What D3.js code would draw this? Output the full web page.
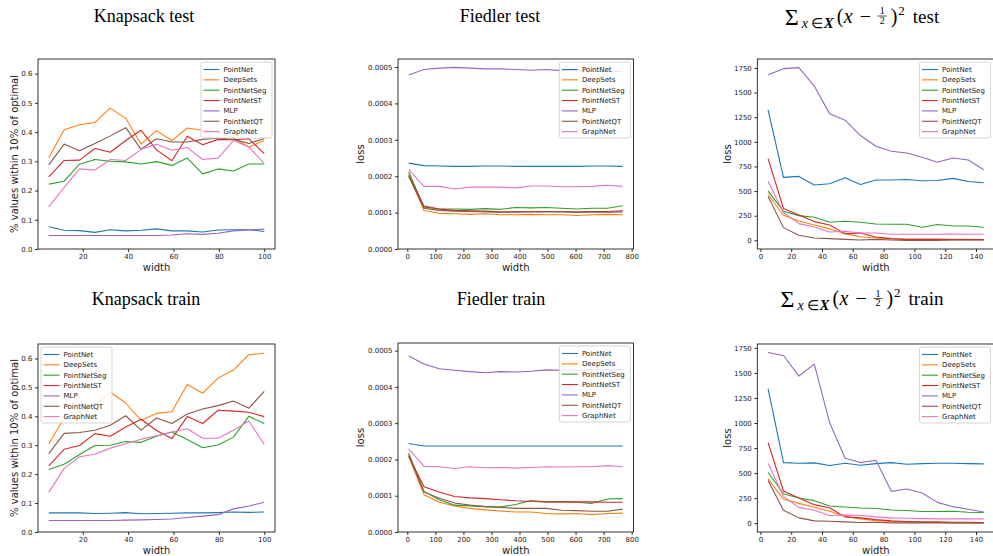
<!DOCTYPE html>
<html>
<head>
<meta charset="utf-8">
<script src="https://cdn.jsdelivr.net/npm/d3@7"></script>
<style>
  html, body { margin: 0; padding: 0; background: #fff; }
  svg { display: block; }
</style>
</head>
<body>
<div id="chart"></div>
<script>
// model names and matplotlib tab10 colours
const models = ['PointNet', 'DeepSets', 'PointNetSeg', 'PointNetST', 'MLP', 'PointNetQT', 'GraphNet'];
const colors = ['#1f77b4', '#ff7f0e', '#2ca02c', '#d62728', '#9467bd', '#8c564b', '#e377c2'];

// x values (width) for each problem
const knapsackWidths = [5, 11.79, 18.57, 25.36, 32.14, 38.93, 45.71, 52.5, 59.29, 66.07, 72.86, 79.64, 86.43, 93.21, 100];
const fiedlerWidths = [5, 59.5, 114, 168.5, 223, 277.5, 332, 386.5, 441, 495.5, 550, 604.5, 659, 713.5, 768];
const sumWidths = [5, 15, 25, 35, 45, 55, 65, 75, 85, 95, 105, 115, 125, 135, 145];

// one row per model, in the order of `models`
const knapsackTest = [
  [0.076, 0.064, 0.063, 0.057, 0.066, 0.062, 0.064, 0.069, 0.062, 0.062, 0.058, 0.065, 0.066, 0.066, 0.060],
  [0.312, 0.408, 0.425, 0.433, 0.482, 0.447, 0.359, 0.405, 0.371, 0.414, 0.406, 0.400, 0.380, 0.349, 0.371],
  [0.222, 0.232, 0.290, 0.306, 0.300, 0.298, 0.291, 0.299, 0.286, 0.311, 0.257, 0.274, 0.267, 0.291, 0.291],
  [0.247, 0.303, 0.304, 0.344, 0.331, 0.371, 0.406, 0.339, 0.302, 0.386, 0.357, 0.375, 0.374, 0.377, 0.326],
  [0.046, 0.046, 0.046, 0.046, 0.046, 0.046, 0.046, 0.046, 0.048, 0.052, 0.050, 0.054, 0.062, 0.065, 0.068],
  [0.288, 0.359, 0.336, 0.361, 0.387, 0.415, 0.341, 0.377, 0.366, 0.366, 0.375, 0.380, 0.375, 0.361, 0.378],
  [0.144, 0.211, 0.274, 0.270, 0.306, 0.303, 0.341, 0.358, 0.338, 0.347, 0.306, 0.311, 0.371, 0.349, 0.293]
];
const knapsackTrain = [
  [0.066, 0.066, 0.066, 0.064, 0.065, 0.067, 0.063, 0.064, 0.065, 0.066, 0.066, 0.067, 0.069, 0.068, 0.069],
  [0.305, 0.394, 0.417, 0.437, 0.483, 0.446, 0.386, 0.410, 0.416, 0.510, 0.480, 0.532, 0.560, 0.613, 0.618],
  [0.216, 0.234, 0.268, 0.299, 0.300, 0.313, 0.310, 0.331, 0.346, 0.320, 0.291, 0.301, 0.328, 0.400, 0.375],
  [0.229, 0.286, 0.299, 0.340, 0.331, 0.363, 0.390, 0.351, 0.323, 0.399, 0.375, 0.421, 0.418, 0.414, 0.399],
  [0.040, 0.040, 0.040, 0.040, 0.040, 0.041, 0.042, 0.043, 0.045, 0.050, 0.055, 0.060, 0.080, 0.090, 0.103],
  [0.271, 0.341, 0.344, 0.352, 0.369, 0.402, 0.352, 0.394, 0.375, 0.408, 0.425, 0.437, 0.453, 0.428, 0.486],
  [0.137, 0.220, 0.260, 0.269, 0.290, 0.305, 0.321, 0.333, 0.346, 0.357, 0.324, 0.324, 0.352, 0.384, 0.303]
];
const fiedlerTest = [
  [2.36e-4, 2.29e-4, 2.28e-4, 2.27e-4, 2.27e-4, 2.28e-4, 2.28e-4, 2.27e-4, 2.27e-4, 2.27e-4, 2.27e-4, 2.27e-4, 2.28e-4, 2.28e-4, 2.27e-4],
  [2.05e-4, 1.06e-4, 0.98e-4, 0.97e-4, 0.95e-4, 0.97e-4, 0.94e-4, 0.94e-4, 0.95e-4, 0.94e-4, 0.94e-4, 0.92e-4, 0.94e-4, 0.95e-4, 0.94e-4],
  [2.12e-4, 1.15e-4, 1.10e-4, 1.10e-4, 1.09e-4, 1.11e-4, 1.09e-4, 1.14e-4, 1.13e-4, 1.14e-4, 1.12e-4, 1.10e-4, 1.12e-4, 1.12e-4, 1.19e-4],
  [2.02e-4, 1.18e-4, 1.10e-4, 1.06e-4, 1.05e-4, 1.04e-4, 1.02e-4, 1.02e-4, 1.03e-4, 1.03e-4, 1.03e-4, 1.02e-4, 1.03e-4, 1.03e-4, 1.05e-4],
  [4.78e-4, 4.93e-4, 4.97e-4, 4.99e-4, 4.97e-4, 4.95e-4, 4.95e-4, 4.93e-4, 4.91e-4, 4.93e-4, 4.90e-4, 4.90e-4, 4.88e-4, 4.88e-4, 4.87e-4],
  [1.99e-4, 1.12e-4, 1.06e-4, 1.04e-4, 1.03e-4, 1.02e-4, 1.01e-4, 1.02e-4, 1.02e-4, 1.02e-4, 1.02e-4, 1.01e-4, 1.02e-4, 1.01e-4, 1.02e-4],
  [2.18e-4, 1.72e-4, 1.72e-4, 1.65e-4, 1.70e-4, 1.70e-4, 1.70e-4, 1.68e-4, 1.73e-4, 1.73e-4, 1.71e-4, 1.71e-4, 1.72e-4, 1.75e-4, 1.72e-4]
];
const fiedlerTrain = [
  [2.44e-4, 2.37e-4, 2.37e-4, 2.37e-4, 2.37e-4, 2.37e-4, 2.37e-4, 2.37e-4, 2.37e-4, 2.37e-4, 2.37e-4, 2.37e-4, 2.37e-4, 2.37e-4, 2.37e-4],
  [2.08e-4, 1.03e-4, 0.82e-4, 0.72e-4, 0.65e-4, 0.61e-4, 0.58e-4, 0.55e-4, 0.55e-4, 0.51e-4, 0.50e-4, 0.51e-4, 0.48e-4, 0.51e-4, 0.52e-4],
  [2.17e-4, 1.12e-4, 0.89e-4, 0.74e-4, 0.72e-4, 0.70e-4, 0.69e-4, 0.76e-4, 0.87e-4, 0.83e-4, 0.83e-4, 0.82e-4, 0.79e-4, 0.91e-4, 0.92e-4],
  [2.09e-4, 1.25e-4, 1.10e-4, 0.98e-4, 0.94e-4, 0.92e-4, 0.89e-4, 0.86e-4, 0.84e-4, 0.83e-4, 0.83e-4, 0.83e-4, 0.83e-4, 0.82e-4, 0.82e-4],
  [4.85e-4, 4.63e-4, 4.50e-4, 4.46e-4, 4.42e-4, 4.39e-4, 4.42e-4, 4.41e-4, 4.43e-4, 4.47e-4, 4.46e-4, 4.46e-4, 4.47e-4, 4.47e-4, 4.48e-4],
  [2.12e-4, 1.10e-4, 0.93e-4, 0.80e-4, 0.74e-4, 0.70e-4, 0.68e-4, 0.65e-4, 0.65e-4, 0.65e-4, 0.60e-4, 0.59e-4, 0.57e-4, 0.57e-4, 0.63e-4],
  [2.29e-4, 1.81e-4, 1.80e-4, 1.75e-4, 1.80e-4, 1.77e-4, 1.78e-4, 1.76e-4, 1.78e-4, 1.80e-4, 1.79e-4, 1.80e-4, 1.80e-4, 1.83e-4, 1.80e-4]
];
const sumTest = [
  [1325, 639, 649, 561, 574, 635, 567, 612, 612, 618, 605, 608, 629, 598, 584],
  [465, 255, 197, 156, 116, 68, 37, 24, 14, 10, 10, 10, 10, 10, 7],
  [500, 296, 251, 234, 183, 194, 183, 166, 163, 163, 133, 160, 146, 146, 133],
  [829, 323, 258, 190, 156, 68, 75, 34, 17, 10, 10, 10, 7, 7, 7],
  [1682, 1743, 1753, 1566, 1284, 1220, 1064, 955, 904, 887, 843, 792, 836, 815, 717],
  [445, 129, 51, 24, 17, 10, 3, 10, 3, 0, 0, 0, 3, 3, 3],
  [601, 282, 170, 136, 85, 92, 75, 75, 61, 61, 61, 61, 65, 61, 65]
];
const sumTrain = [
  [1343, 605, 599, 602, 576, 599, 579, 595, 605, 589, 595, 599, 599, 595, 592],
  [443, 241, 198, 159, 119, 66, 43, 26, 17, 10, 7, 7, 3, 3, -3],
  [506, 294, 251, 225, 172, 162, 152, 146, 132, 126, 116, 116, 119, 109, 106],
  [804, 321, 251, 185, 152, 63, 53, 36, 23, 17, 13, 13, 10, 10, 7],
  [1704, 1674, 1469, 1588, 1002, 648, 605, 628, 318, 341, 301, 208, 165, 139, 112],
  [427, 129, 53, 23, 20, 13, 7, 10, 3, 3, 3, 3, 3, 3, 3],
  [599, 268, 155, 129, 76, 83, 76, 63, 53, 50, 46, 43, 43, 43, 43]
];

// tick values
const knapsackXTicks = [20, 40, 60, 80, 100];
const knapsackYTicks = [0, 0.1, 0.2, 0.3, 0.4, 0.5, 0.6];
const fiedlerXTicks = [0, 100, 200, 300, 400, 500, 600, 700, 800];
const fiedlerYTicks = [0, 0.0001, 0.0002, 0.0003, 0.0004, 0.0005];
const sumXTicks = [0, 20, 40, 60, 80, 100, 120, 140];
const sumYTicks = [0, 250, 500, 750, 1000, 1250, 1500, 1750];

const W = 993, H = 556;
const SANS = 'DejaVu Sans, sans-serif';
const SERIF = 'Liberation Serif, Times New Roman, serif';

const svg = d3.select('#chart').append('svg')
  .attr('width', W)
  .attr('height', H)
  .attr('viewBox', `0 0 ${W} ${H}`);

// panel layout (pixel boxes of each axes)
const panels = [
  { box: [38, 275, 59, 249], xs: knapsackWidths, data: knapsackTest, xdom: [0.25, 104.75], ydom: [0, 0.65],
    xticks: knapsackXTicks, yticks: knapsackYTicks, yfmt: d3.format('.1f'), ylabel: '% values within 10% of optimal', ylx: 18, legend: 'right' },
  { box: [398, 633.4, 59, 249], xs: fiedlerWidths, data: fiedlerTest, xdom: [-33.15, 806.15], ydom: [0, 0.000522],
    xticks: fiedlerXTicks, yticks: fiedlerYTicks, yfmt: d3.format('.4f'), ylabel: 'loss', ylx: 364, legend: 'right' },
  { box: [757.3, 994.5, 59, 249], xs: sumWidths, data: sumTest, xdom: [-2, 152], ydom: [-88, 1841],
    xticks: sumXTicks, yticks: sumYTicks, yfmt: d3.format('d'), ylabel: 'loss', ylx: 731, legend: 'right' },
  { box: [38, 275, 344, 532], xs: knapsackWidths, data: knapsackTrain, xdom: [0.25, 104.75], ydom: [0, 0.65],
    xticks: knapsackXTicks, yticks: knapsackYTicks, yfmt: d3.format('.1f'), ylabel: '% values within 10% of optimal', ylx: 18, legend: 'left' },
  { box: [398, 633.4, 343, 532], xs: fiedlerWidths, data: fiedlerTrain, xdom: [-33.15, 806.15], ydom: [0, 0.000521],
    xticks: fiedlerXTicks, yticks: fiedlerYTicks, yfmt: d3.format('.4f'), ylabel: 'loss', ylx: 364, legend: 'right' },
  { box: [757.3, 994.5, 344, 532], xs: sumWidths, data: sumTrain, xdom: [-2, 152], ydom: [-88, 1789],
    xticks: sumXTicks, yticks: sumYTicks, yfmt: d3.format('d'), ylabel: 'loss', ylx: 731, legend: 'right' }
];

panels.forEach(p => drawPanel(p));

function drawPanel(p) {
  const [x0, x1, y0, y1] = p.box;
  const x = d3.scaleLinear().domain(p.xdom).range([x0, x1]);
  const y = d3.scaleLinear().domain(p.ydom).range([y1, y0]);
  const g = svg.append('g');

  // series lines
  const line = d3.line().x(d => x(d[0])).y(d => y(d[1]));
  p.data.forEach((vals, i) => {
    g.append('path')
      .datum(p.xs.map((xv, j) => [xv, vals[j]]))
      .attr('fill', 'none')
      .attr('stroke', colors[i])
      .attr('stroke-width', 1.1)
      .attr('stroke-linejoin', 'round')
      .attr('d', line);
  });

  // axes
  const xAxis = g.append('g')
    .attr('transform', `translate(0,${y1})`)
    .call(d3.axisBottom(x).tickValues(p.xticks).tickSize(3).tickPadding(2.5));
  const yAxis = g.append('g')
    .attr('transform', `translate(${x0},0)`)
    .call(d3.axisLeft(y).tickValues(p.yticks).tickFormat(p.yfmt).tickSize(3).tickPadding(2.5));
  [xAxis, yAxis].forEach(a => {
    a.select('.domain').remove();
    a.selectAll('line').attr('stroke', '#000').attr('stroke-width', 0.8);
    a.selectAll('text').attr('fill', '#222').style('font-size', '7px').style('font-family', SANS);
  });

  // frame
  g.append('rect')
    .attr('x', x0).attr('y', y0)
    .attr('width', x1 - x0).attr('height', y1 - y0)
    .attr('fill', 'none')
    .attr('stroke', '#000')
    .attr('stroke-width', 0.8);

  // axis labels
  g.append('text')
    .attr('x', (x0 + x1) / 2)
    .attr('y', y1 + 22)
    .attr('text-anchor', 'middle')
    .style('font-size', '10px')
    .style('font-family', SANS)
    .attr('fill', '#222')
    .text('width');
  g.append('text')
    .attr('transform', `translate(${p.ylx},${(y0 + y1) / 2}) rotate(-90)`)
    .attr('text-anchor', 'middle')
    .style('font-size', '10px')
    .style('font-family', SANS)
    .attr('fill', '#222')
    .text(p.ylabel);

  // legend
  const lw = 71, lh = 76;
  const lx = p.legend === 'left' ? x0 + 3 : Math.min(x1, W + 1) - 3 - lw + (x1 > W ? -0.5 : 0);
  const ly = y0 + 3;
  const lg = g.append('g').attr('transform', `translate(${lx},${ly})`);
  lg.append('rect')
    .attr('width', lw).attr('height', lh)
    .attr('rx', 2)
    .attr('fill', '#fff')
    .attr('fill-opacity', 0.8)
    .attr('stroke', '#ccc')
    .attr('stroke-width', 0.8);
  models.forEach((m, i) => {
    const yy = 7.5 + i * 10.35;
    lg.append('line')
      .attr('x1', 2.5).attr('x2', 18.5)
      .attr('y1', yy).attr('y2', yy)
      .attr('stroke', colors[i])
      .attr('stroke-width', 1.1);
    lg.append('text')
      .attr('x', 22.5)
      .attr('y', yy)
      .attr('dy', '0.35em')
      .style('font-size', '7px')
      .style('font-family', SANS)
      .attr('fill', '#222')
      .text(m);
  });
}

// plain titles
[['Knapsack test', 144, 22], ['Fiedler test', 500, 22], ['Knapsack train', 146, 305], ['Fiedler train', 501, 305]]
  .forEach(([t, cx, by]) => {
    svg.append('text')
      .attr('x', cx).attr('y', by)
      .attr('text-anchor', 'middle')
      .style('font-size', '18px')
      .style('font-family', SERIF)
      .attr('fill', '#000')
      .text(t);
  });

// math titles: sum_{x in X} (x - 1/2)^2 test|train
// each piece: [text, offset from start, font size, baseline shift, style, weight]
const mathPieces = [
  ['\u03A3', 0, 24, 2, 'normal', 'normal'],
  ['x', 17, 14, 5, 'italic', 'normal'],
  ['\u2208', 26, 14, 5, 'normal', 'normal'],
  ['X', 39, 15, 5, 'italic', 'bold'],
  ['(', 52, 20, 0, 'normal', 'normal'],
  ['x', 59, 20, 0, 'italic', 'normal'],
  ['\u2212', 75, 20, 0, 'normal', 'normal'],
  [')', 106, 20, 0, 'normal', 'normal'],
  ['2', 113.5, 13, -8, 'normal', 'normal']
];
const fracOffset = 93, fracWidth = 9, wordOffset = 128;

function mathTitle(cx, base, word) {
  const grp = svg.append('g');
  mathPieces.forEach(([t, dx, size, dy, style, weight]) => {
    grp.append('text')
      .attr('x', dx).attr('y', base + dy)
      .style('font-size', size + 'px')
      .style('font-family', SERIF)
      .style('font-style', style)
      .style('font-weight', weight)
      .attr('fill', '#000')
      .text(t);
  });
  // fraction 1/2, one text element with stacked tspans
  const fc = fracOffset + fracWidth / 2;
  const ft = grp.append('text')
    .attr('text-anchor', 'middle')
    .style('font-size', '10px')
    .style('font-family', SERIF)
    .attr('fill', '#000');
  ft.append('tspan').attr('x', fc).attr('y', base - 8.5).text('1');
  ft.append('tspan').attr('x', fc).attr('y', base + 1).text('2');
  grp.append('line').attr('x1', fracOffset).attr('x2', fracOffset + fracWidth)
    .attr('y1', base - 6.5).attr('y2', base - 6.5)
    .attr('stroke', '#000').attr('stroke-width', 0.7);
  const wt = grp.append('text')
    .attr('x', wordOffset).attr('y', base)
    .style('font-size', '19px')
    .style('font-family', SERIF)
    .attr('fill', '#000')
    .text(word);
  const total = wordOffset + wt.node().getComputedTextLength();
  grp.attr('transform', `translate(${cx - total / 2},0)`);
}
mathTitle(862, 22.5, 'test');
mathTitle(862, 305, 'train');
</script>
</body>
</html>
